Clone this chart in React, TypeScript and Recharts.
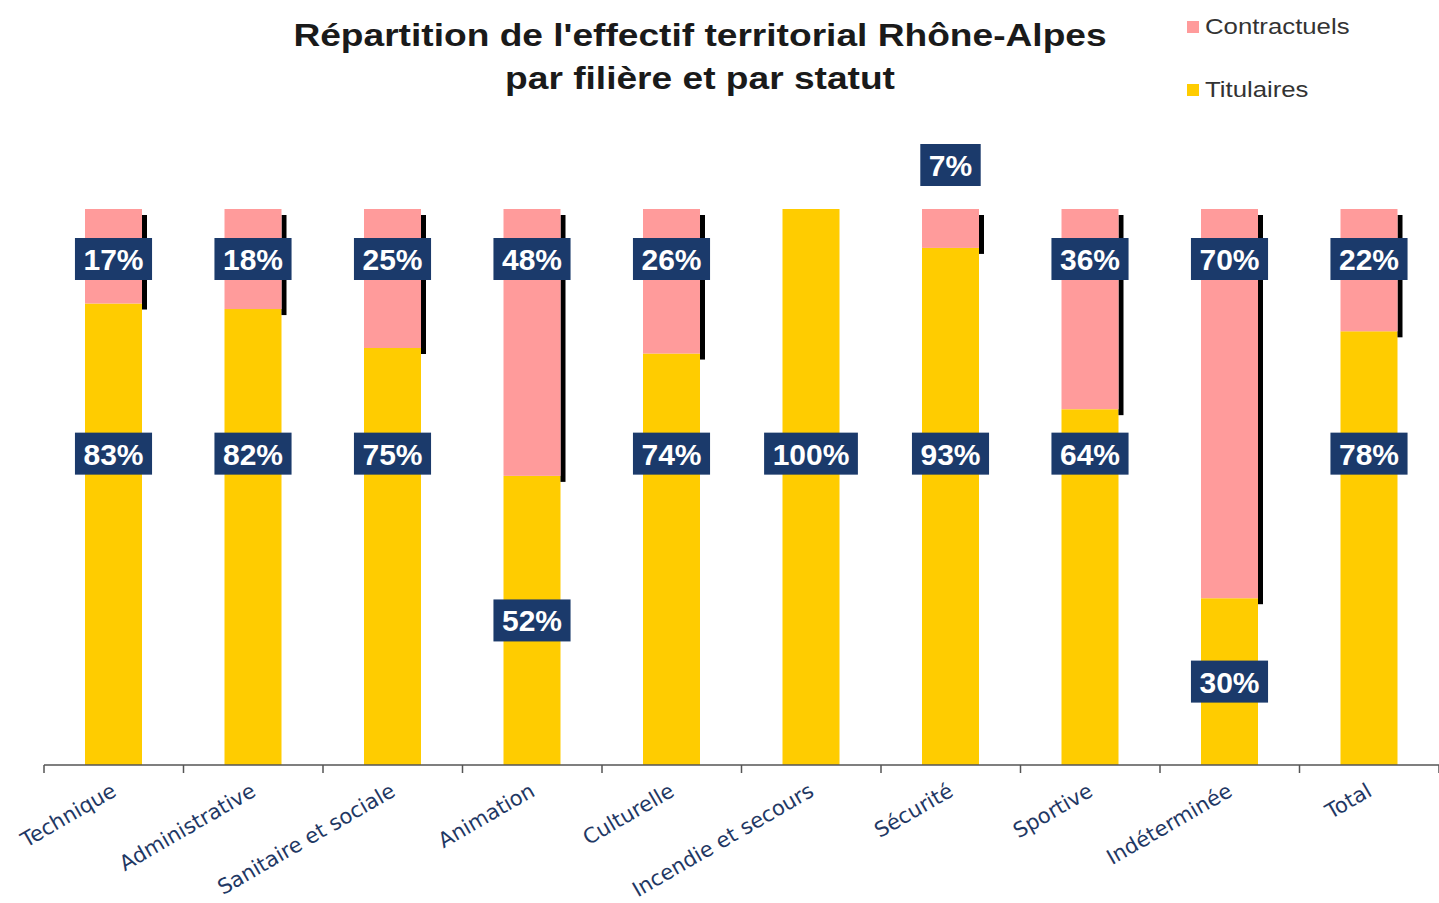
import React from 'react';
import { BarChart, Bar, XAxis, YAxis, LabelList } from 'recharts';

const categories = ['Technique', 'Administrative', 'Sanitaire et sociale', 'Animation', 'Culturelle', 'Incendie et secours', 'Sécurité', 'Sportive', 'Indéterminée', 'Total'];
const titulaires = [83, 82, 75, 52, 74, 100, 93, 64, 30, 78];
const contractuels = [17, 18, 25, 48, 26, 0, 7, 36, 70, 22];

const data = categories.map((c, i) => ({ name: c, titulaires: titulaires[i], contractuels: contractuels[i] }));

const W = 1439;
const H = 903;
const MARGIN = { top: 209, right: 0, bottom: 38, left: 44 };
const BAND = (W - MARGIN.left - MARGIN.right) / categories.length;

const PINK = '#FF9B9B';
const YELLOW = '#FFCC00';
const NAVY = '#1B3A6B';

const Box = ({ cx, cy, text }: { cx: number; cy: number; text: string }) => {
  const tw = text.replace('%', '').length * 16.7 + 26.7;
  const bw = tw + 17;
  const bh = 42;
  return (
    <g>
      <rect x={cx - bw / 2} y={cy - bh / 2} width={bw} height={bh} fill={NAVY} />
      <text x={cx} y={cy + 11} textAnchor="middle" fill="#fff" fontFamily="'Liberation Sans', Arial, sans-serif" fontWeight="bold" fontSize={30}>
        {text}
      </text>
    </g>
  );
};

const TitLabel = (props: any) => {
  const { x, y, width, height, value } = props;
  if (!value) return null;
  const bottom = y + height;
  const per = height / value;
  const cy = value >= 60 ? bottom - 56 * per : y + height / 2;
  return <Box cx={x + width / 2} cy={cy} text={`${value}%`} />;
};

const ConLabel = (props: any) => {
  const { x, y, width, value } = props;
  if (!value) return null;
  const cy = value < 10 ? y - 44 : y + 50;
  return <Box cx={x + width / 2} cy={cy} text={`${value}%`} />;
};

const ConShape = (props: any) => {
  const { x, y, width, height } = props;
  if (!height || height <= 0) return null;
  return (
    <g>
      <rect x={x + width} y={y + 6} width={5} height={height} fill="#000" />
      <rect x={x} y={y} width={width} height={height} fill={PINK} />
    </g>
  );
};

const Tick = (props: any) => {
  const { x, y, payload, index } = props;
  const tx = x + 4;
  const ty = y + 22;
  return (
    <g>
      <line x1={x - BAND / 2} y1={y - 8} x2={x - BAND / 2} y2={y} stroke="#555" strokeWidth={1.5} />
      {index === categories.length - 1 && (
        <line x1={x + BAND / 2} y1={y - 8} x2={x + BAND / 2} y2={y} stroke="#555" strokeWidth={1.5} />
      )}
      <text x={tx} y={ty} textAnchor="end" transform={`rotate(-30, ${tx}, ${ty})`} fill="#1F3864" fontFamily="'DejaVu Sans', sans-serif" fontSize={21}>
        {payload.value}
      </text>
    </g>
  );
};

export default function App() {
  return (
    <div style={{ position: 'relative', width: W, height: H, background: '#fff', overflow: 'hidden' }}>
      <style>{`body{margin:0;}`}</style>
      <div style={{ position: 'absolute', left: 0, top: 14, width: 1400, textAlign: 'center', fontFamily: "'Liberation Sans', Arial, sans-serif", fontWeight: 'bold', fontSize: 32, lineHeight: '43px', color: '#1a1a1a' }}>
        <div style={{ transform: 'scaleX(1.16)', transformOrigin: '700px 0' }}>
          <div>Répartition de l'effectif territorial Rhône-Alpes</div>
          <div>par filière et par statut</div>
        </div>
      </div>
      <div style={{ position: 'absolute', left: 1187, top: 12, fontFamily: "'Liberation Sans', Arial, sans-serif", fontSize: 22, color: '#333' }}>
        <div style={{ display: 'flex', alignItems: 'center', height: 30 }}>
          <span style={{ display: 'inline-block', width: 12, height: 12, background: PINK, marginRight: 6 }} />
          <span style={{ display: 'inline-block', transform: 'scaleX(1.17)', transformOrigin: '0 50%' }}>Contractuels</span>
        </div>
        <div style={{ display: 'flex', alignItems: 'center', height: 30, marginTop: 33 }}>
          <span style={{ display: 'inline-block', width: 12, height: 12, background: YELLOW, marginRight: 6 }} />
          <span style={{ display: 'inline-block', transform: 'scaleX(1.17)', transformOrigin: '0 50%' }}>Titulaires</span>
        </div>
      </div>
      <div style={{ position: 'absolute', left: 0, top: 0 }}>
        <BarChart width={W} height={H} data={data} margin={MARGIN} barSize={57} style={{ overflow: 'visible' }}>
          <YAxis hide domain={[0, 100]} />
          <XAxis dataKey="name" interval={0} height={100} tickLine={false} axisLine={{ stroke: '#555', strokeWidth: 1.5 }} tick={<Tick />} />
          <Bar dataKey="titulaires" stackId="a" fill={YELLOW} isAnimationActive={false}>
            <LabelList dataKey="titulaires" content={<TitLabel />} />
          </Bar>
          <Bar dataKey="contractuels" stackId="a" fill={PINK} shape={<ConShape />} isAnimationActive={false}>
            <LabelList dataKey="contractuels" content={<ConLabel />} />
          </Bar>
        </BarChart>
      </div>
    </div>
  );
}
